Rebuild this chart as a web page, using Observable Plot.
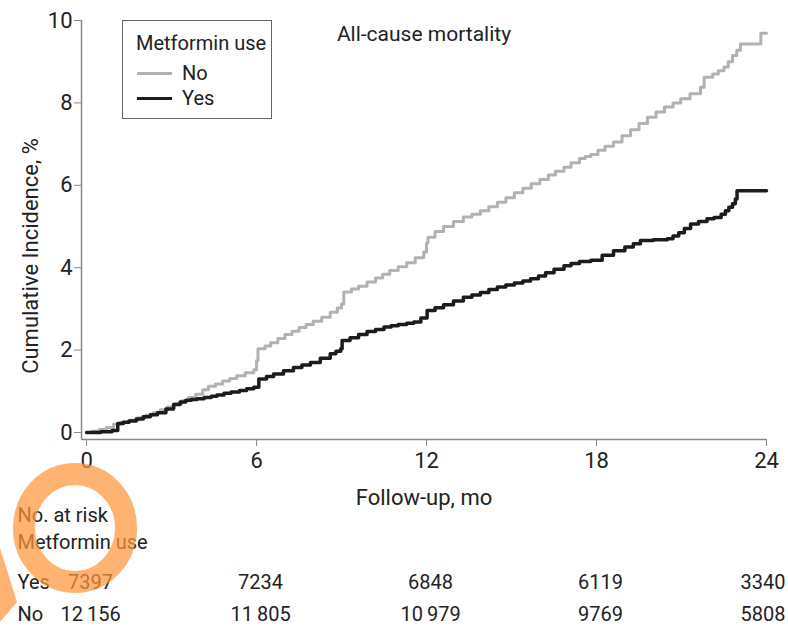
<!DOCTYPE html>
<html>
<head>
<meta charset="utf-8">
<script src="https://cdn.jsdelivr.net/npm/d3@7"></script>
<script src="https://cdn.jsdelivr.net/npm/@observablehq/plot@0.6"></script>
<style>
  body { margin: 0; background: #fff; }
  #wrap { position: relative; width: 788px; height: 626px; font-family: Roboto, "Liberation Sans", sans-serif; color: #222; }
  #legend { position: absolute; left: 122px; top: 20px; width: 148px; height: 97px; border: 1px solid #666; background: #fff; font-size: 20px; }
  #legend .ttl { position: absolute; left: 13px; top: 10px; }
  #legend .row { position: absolute; left: 14px; height: 24px; display: flex; align-items: center; }
  #legend .sw { width: 35px; height: 0; border-top-style: solid; margin-right: 10px; }
</style>
</head>
<body>
<div id="wrap"></div>
<script>
// ---- data ----
const groups = ["No", "Yes"];
const groupColors = ["#b2b2b2", "#1c1c1c"];
const chartTitle = "All-cause mortality";
const legendTitle = "Metformin use";
const xTitle = "Follow-up, mo";
const yTitle = "Cumulative Incidence, %";
const xTicks = [0, 6, 12, 18, 24];
const yTicks = [0, 2, 4, 6, 8, 10];

// Metformin use: No (gray) — months, cumulative incidence %
const noTime = [0, 0.2, 0.45, 0.7, 0.95, 1.2, 1.5, 1.8, 2.1, 2.35, 2.6, 2.85, 3.1, 3.35, 3.6, 3.85, 4.1, 4.3, 4.55, 4.8, 5.05, 5.3, 5.6, 5.9, 6.0, 6.05, 6.3, 6.5, 6.75, 7.0, 7.25, 7.5, 7.75, 8.0, 8.3, 8.6, 8.85, 9.0, 9.08, 9.35, 9.6, 9.9, 10.2, 10.45, 10.7, 11.0, 11.3, 11.6, 11.9, 12.0, 12.05, 12.3, 12.6, 12.95, 13.3, 13.6, 13.9, 14.2, 14.5, 14.8, 15.1, 15.4, 15.7, 16.0, 16.3, 16.55, 16.85, 17.1, 17.4, 17.6, 17.8, 18.05, 18.3, 18.6, 18.9, 19.2, 19.5, 19.8, 20.1, 20.4, 20.7, 20.97, 21.3, 21.67, 21.8, 22.1, 22.3, 22.5, 22.65, 22.8, 22.95, 23.08, 23.8, 23.8, 24];
const noInc  = [0, 0.03, 0.07, 0.12, 0.2, 0.25, 0.3, 0.36, 0.42, 0.48, 0.55, 0.62, 0.7, 0.77, 0.85, 0.93, 1.04, 1.12, 1.18, 1.25, 1.31, 1.38, 1.45, 1.52, 1.75, 2.03, 2.1, 2.18, 2.28, 2.38, 2.46, 2.55, 2.62, 2.7, 2.8, 2.92, 3.02, 3.12, 3.41, 3.48, 3.55, 3.65, 3.75, 3.84, 3.93, 4.02, 4.12, 4.24, 4.38, 4.6, 4.74, 4.88, 5.0, 5.12, 5.23, 5.3, 5.38, 5.48, 5.59, 5.7, 5.82, 5.93, 6.04, 6.14, 6.25, 6.34, 6.44, 6.55, 6.65, 6.7, 6.75, 6.85, 6.95, 7.05, 7.2, 7.35, 7.5, 7.65, 7.78, 7.9, 8.0, 8.1, 8.22, 8.38, 8.62, 8.7, 8.78, 8.87, 9.0, 9.15, 9.28, 9.43, 9.43, 9.69, 9.69];

// Metformin use: Yes (black)
const yesTime = [0, 0.5, 0.9, 1.1, 1.3, 1.5, 1.75, 2.0, 2.25, 2.5, 2.8, 3.07, 3.3, 3.5, 3.7, 3.9, 4.15, 4.4, 4.6, 4.85, 5.1, 5.4, 5.65, 5.9, 6.08, 6.35, 6.6, 6.95, 7.3, 7.6, 7.9, 8.25, 8.6, 8.8, 8.97, 9.02, 9.3, 9.6, 9.9, 10.2, 10.5, 10.75, 11.0, 11.3, 11.55, 11.8, 12.02, 12.3, 12.6, 12.95, 13.3, 13.6, 13.9, 14.2, 14.5, 14.8, 15.1, 15.4, 15.67, 15.95, 16.2, 16.5, 16.85, 17.1, 17.4, 17.8, 18.2, 18.6, 19.0, 19.3, 19.55, 20.0, 20.5, 20.7, 20.9, 21.1, 21.32, 21.6, 21.9, 22.15, 22.4, 22.55, 22.67, 22.8, 22.9, 22.96, 24];
const yesInc  = [0, 0.02, 0.05, 0.22, 0.25, 0.28, 0.33, 0.38, 0.43, 0.48, 0.57, 0.68, 0.74, 0.78, 0.8, 0.82, 0.85, 0.88, 0.91, 0.95, 0.98, 1.02, 1.06, 1.1, 1.3, 1.36, 1.42, 1.5, 1.58, 1.64, 1.7, 1.8, 1.91, 1.97, 2.03, 2.23, 2.3, 2.38, 2.45, 2.5, 2.56, 2.59, 2.62, 2.65, 2.68, 2.78, 2.96, 3.03, 3.1, 3.19, 3.28, 3.34, 3.4, 3.47, 3.53, 3.58, 3.63, 3.68, 3.73, 3.8, 3.88, 3.96, 4.05, 4.1, 4.15, 4.18, 4.3, 4.41, 4.5, 4.58, 4.66, 4.68, 4.7, 4.77, 4.85, 4.95, 5.06, 5.12, 5.19, 5.22, 5.3, 5.38, 5.47, 5.55, 5.67, 5.87, 5.87];

// Number at risk
const riskMonths = [0, 6, 12, 18, 24];
const atRiskYes = [7397, 7234, 6848, 6119, 3340];
const atRiskNo  = [12156, 11805, 10979, 9769, 5808];
const riskHeader = ["No. at risk", "Metformin use"];

// ---- build ----
const xDomain = [-0.18, 24];
const yDomain = [-0.17, 10];
const curves = [
  ...noTime.map((t, i) => ({group: "No", t, v: noInc[i]})),
  ...yesTime.map((t, i) => ({group: "Yes", t, v: yesInc[i]}))
];
const fmt = n => n >= 10000 ? d3.format(",")(n).replace(",", "\u2009") : String(n);
const riskRows = [
  ...riskMonths.map((m, i) => ({row: "Yes", m, n: atRiskYes[i]})),
  ...riskMonths.map((m, i) => ({row: "No", m, n: atRiskNo[i]}))
];
const lastM = riskMonths[riskMonths.length - 1];
const rowDy = {Yes: 143, No: 175};
const tbl = {fontSize: 20, fill: "#222", lineAnchor: "middle"};

const riskMarks = [];
for (const r of ["Yes", "No"]) {
  riskMarks.push(Plot.text([r], {...tbl, frameAnchor: "bottom-left", dx: -64, dy: rowDy[r], textAnchor: "start"}));
  riskMarks.push(Plot.text(riskRows.filter(d => d.row === r && d.m !== lastM), {...tbl, x: "m", frameAnchor: "bottom", dy: rowDy[r], dx: 4, text: d => fmt(d.n), textAnchor: "middle"}));
  riskMarks.push(Plot.text(riskRows.filter(d => d.row === r && d.m === lastM), {...tbl, x: "m", frameAnchor: "bottom", dy: rowDy[r], dx: 19, text: d => fmt(d.n), textAnchor: "end"}));
}

const chart = Plot.plot({
  width: 788,
  height: 626,
  marginLeft: 81,
  marginRight: 22,
  marginTop: 20,
  marginBottom: 187,
  style: {fontFamily: "Roboto, 'Liberation Sans', sans-serif", fontSize: "22px", color: "#222", background: "#fff", overflow: "visible"},
  x: {domain: xDomain, ticks: xTicks, label: null},
  y: {domain: yDomain, ticks: yTicks, label: null},
  color: {domain: groups, range: groupColors},
  marks: [
    Plot.axisX({ticks: xTicks, tickSize: 7, tickPadding: 6, stroke: "#888", fill: "#222", label: null}),
    Plot.axisY({ticks: yTicks, tickSize: 7, tickPadding: 2, stroke: "#888", fill: "#222", label: null}),
    Plot.ruleX([xDomain[0]], {stroke: "#888", strokeWidth: 1.5}),
    Plot.ruleY([yDomain[0]], {x1: xDomain[0], x2: xTicks[xTicks.length - 1], stroke: "#888", strokeWidth: 1.5}),
    Plot.line(curves.filter(d => d.group === "No"), {x: "t", y: "v", stroke: "group", curve: "step-after", strokeWidth: 3}),
    Plot.line(curves.filter(d => d.group === "Yes"), {x: "t", y: "v", stroke: "group", curve: "step-after", strokeWidth: 3.5}),
    Plot.text([chartTitle], {frameAnchor: "top", dy: 14, lineAnchor: "middle", fontSize: 21, fill: "#222"}),
    Plot.text([yTitle], {frameAnchor: "left", rotate: -90, dx: -51, dy: 26, textAnchor: "middle", lineAnchor: "middle", fill: "#222"}),
    Plot.text([xTitle], {frameAnchor: "bottom", dy: 58, lineAnchor: "middle", fill: "#222"}),
    Plot.text([riskHeader[0]], {...tbl, frameAnchor: "bottom-left", dx: -64, dy: 76, textAnchor: "start"}),
    Plot.text([riskHeader[1]], {...tbl, frameAnchor: "bottom-left", dx: -64, dy: 103, textAnchor: "start"}),
    ...riskMarks
  ]
});

const wrap = document.getElementById("wrap");
wrap.appendChild(chart);

// annotation overlay (orange highlight)
const svg = d3.select(chart);
svg.append("ellipse").attr("cx", 75).attr("cy", 528).attr("rx", 51).attr("ry", 54)
  .attr("fill", "none").attr("stroke", "rgb(255,150,60)").attr("stroke-width", 22).attr("opacity", 0.72);
svg.append("polygon").attr("points", "0,548 17,602 0,622")
  .attr("fill", "rgb(255,150,60)").attr("opacity", 0.72);

// legend
const legend = document.createElement("div");
legend.id = "legend";
legend.innerHTML = `<div class="ttl">${legendTitle}</div>` +
  groups.map((g, i) => `<div class="row" style="top:${40 + i * 25}px"><span class="sw" style="border-top-width:${i ? 3.5 : 3}px;border-top-color:${groupColors[i]}"></span>${g}</div>`).join("");
wrap.appendChild(legend);
</script>
</body>
</html>
